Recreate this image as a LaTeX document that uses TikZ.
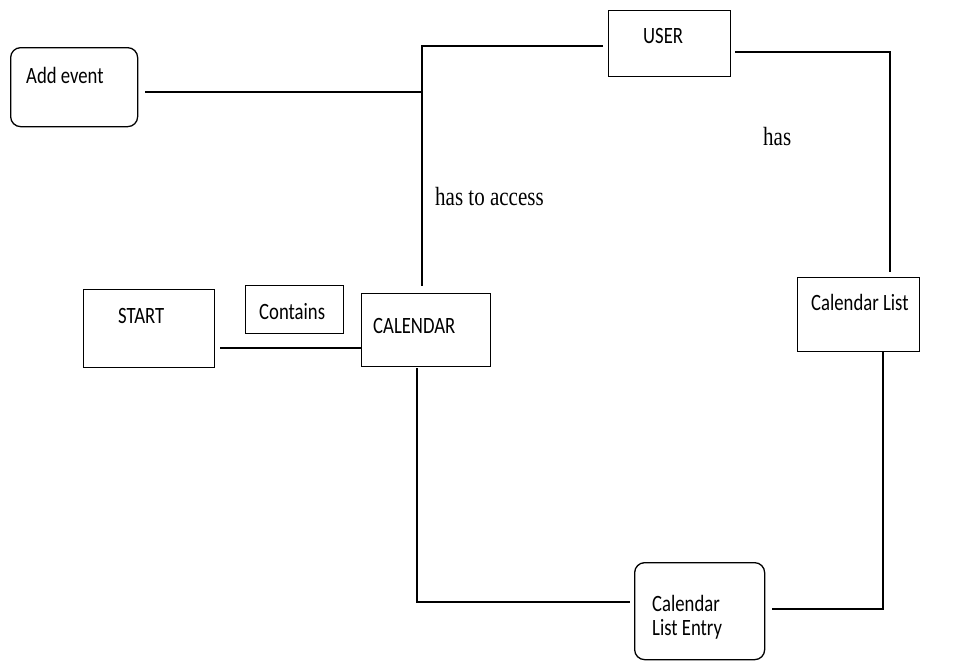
\documentclass[tikz,border=0pt]{standalone}
\usepackage{fontspec}
\setmainfont{Liberation Serif}
\newfontfamily\boxfont{Carlito}
\newcommand{\tallt}[1]{\scalebox{1}[1.25]{#1}}
\begin{document}
\begin{tikzpicture}[x=1pt,y=-1pt,
  box/.style={draw, line width=1.3pt, inner sep=0pt, anchor=north west},
  rbox/.style={box, rounded corners=10pt},
  conn/.style={draw, line width=1.3pt},
  lbl/.style={font=\boxfont\fontsize{18.7}{22}\selectfont, inner sep=0pt, anchor=base west},
  rel/.style={font=\fontsize{21}{25}\selectfont, inner sep=0pt, anchor=base west}]
\useasboundingbox (0,0) rectangle (958,662);
% boxes
\node[rbox, minimum width=127pt, minimum height=79pt] (addevent) at (10,47) {};
\node[box, minimum width=122pt, minimum height=66pt] (user) at (608,10) {};
\node[box, minimum width=131pt, minimum height=78pt] (start) at (83,289) {};
\node[box, minimum width=98pt, minimum height=48pt] (contains) at (245,285) {};
\node[box, minimum width=129pt, minimum height=73pt] (calendar) at (361,293) {};
\node[box, minimum width=122pt, minimum height=74pt] (callist) at (797,277) {};
\node[rbox, minimum width=130pt, minimum height=97pt] (entry) at (634,562) {};
% texts
\node[lbl] (tadd) at (26,83) {\tallt{Add event}};
\node[lbl] (tuser) at (643,43) {\tallt{USER}};
\node[lbl] (tstart) at (118,323) {\tallt{START}};
\node[lbl] (tcont) at (259,319) {\tallt{Contains}};
\node[lbl] (tcal) at (373,333) {\tallt{CALENDAR}};
\node[lbl] (tcl) at (811,310) {\tallt{Calendar List}};
\node[lbl] (tent1) at (652,611) {\tallt{Calendar}};
\node[lbl] (tent2) at (652,635) {\tallt{List Entry}};
\node[rel] (has1) at (435,205) {\tallt{has to access}};
\node[rel] (has2) at (763,145) {\tallt{has}};
% corners
\coordinate (tl) at (422,46);
\coordinate (tlm) at (422,92);
\coordinate (tr) at (890,52);
\coordinate (scy) at (290,348);
\coordinate (bl) at (417,602);
\coordinate (br) at (883,609);
% connectors
\draw[conn, shorten <=7pt] (addevent.east |- tlm) -- (tlm);
\draw[conn, shorten <=5pt, shorten >=7pt] (user.west |- tl) -- (tl) -- (tl |- calendar.north);
\draw[conn, shorten <=4pt, shorten >=5pt] (user.east |- tr) -- (tr) -- (tr |- callist.north);
\draw[conn, shorten <=5pt] (start.east |- scy) -- (calendar.west |- scy);
\draw[conn, shorten <=1pt, shorten >=4pt] (calendar.south -| bl) -- (bl) -- (entry.west |- bl);
\draw[conn, shorten <=7pt] (entry.east |- br) -- (br) -- (br |- callist.south);
\end{tikzpicture}
\end{document}
